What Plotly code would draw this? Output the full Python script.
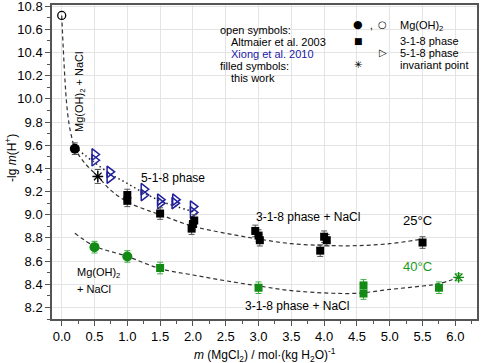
import plotly.graph_objects as go

# ---------------- data ----------------
mgoh2_lit_x = [0.0]
mgoh2_lit_y = [10.72]

mgoh2_25_x = [0.2]
mgoh2_25_y = [9.57]

inv25_x = [0.55]
inv25_y = [9.33]

p318_25_x = [1.0, 1.0, 1.5, 1.98, 2.0, 2.02, 2.95, 3.0, 3.02, 3.94, 4.0, 4.04, 5.5]
p318_25_y = [9.17, 9.12, 9.01, 8.88, 8.92, 8.95, 8.86, 8.82, 8.78, 8.69, 8.81, 8.78, 8.76]

p518_x = [0.5, 0.5, 0.73, 0.73, 1.25, 1.25, 1.5, 1.5, 1.73, 1.72, 2.0, 2.0]
p518_y = [9.52, 9.47, 9.37, 9.32, 9.22, 9.17, 9.13, 9.10, 9.13, 9.10, 9.07, 9.02]

mgoh2_40_x = [0.5, 1.0]
mgoh2_40_y = [8.72, 8.64]

p318_40_x = [1.5, 3.0, 4.6, 4.6, 5.75]
p318_40_y = [8.54, 8.37, 8.39, 8.32, 8.37]

inv40_x = [6.05]
inv40_y = [8.46]

curve25_x = [0.0, 0.025, 0.05, 0.075, 0.11, 0.15, 0.2, 0.33, 0.55, 0.75, 1.0, 1.25,
             1.5, 2.0, 2.5, 3.0, 3.5, 4.0, 4.5, 5.0, 5.5]
curve25_y = [10.72, 10.42, 10.16, 9.96, 9.79, 9.675, 9.575, 9.46, 9.33, 9.21, 9.11, 9.05,
             9.0, 8.9, 8.84, 8.79, 8.75, 8.735, 8.733, 8.75, 8.79]

curve518_x = [0.25, 0.5, 0.75, 1.0, 1.25, 1.5, 1.75, 2.05]
curve518_y = [9.56, 9.45, 9.35, 9.27, 9.19, 9.12, 9.07, 9.02]

curve40_x = [0.2, 0.5, 1.0, 1.5, 2.0, 2.5, 3.0, 3.5, 4.0, 4.5, 5.0, 5.5, 5.75, 6.05]
curve40_y = [8.84, 8.73, 8.64, 8.535, 8.48, 8.43, 8.385, 8.345, 8.325, 8.322, 8.355, 8.385, 8.405, 8.46]

err = 0.05

# ---------------- styles ----------------
BLACK = "#000000"
GREEN = "#138a13"
GREEN_ERR = "#3cb043"
BLUE = "#1f1f9c"
FONT = "Liberation Sans, Arial, sans-serif"

fig = go.Figure()

def errbar(n, color, v=err):
    return dict(type="data", array=[v] * n, visible=True, color=color, thickness=1, width=3)

# curves
fig.add_trace(go.Scatter(x=curve25_x, y=curve25_y, mode="lines",
                         line=dict(color="#333333", width=1.2, dash="4px,3px", shape="spline"),
                         hoverinfo="skip"))
fig.add_trace(go.Scatter(x=curve518_x, y=curve518_y, mode="lines",
                         line=dict(color="#222222", width=1.5, dash="1.5px,3px", shape="spline"),
                         hoverinfo="skip"))
fig.add_trace(go.Scatter(x=curve40_x, y=curve40_y, mode="lines",
                         line=dict(color="#333333", width=1.2, dash="4px,3px", shape="spline"),
                         hoverinfo="skip"))

# 25 C points
fig.add_trace(go.Scatter(x=mgoh2_lit_x, y=mgoh2_lit_y, mode="markers",
                         marker=dict(symbol="circle-open", size=8, color=BLACK, line=dict(width=1.3))))
fig.add_trace(go.Scatter(x=mgoh2_25_x, y=mgoh2_25_y, mode="markers",
                         marker=dict(symbol="circle", size=10, color=BLACK),
                         error_y=errbar(len(mgoh2_25_x), "#555555")))
fig.add_trace(go.Scatter(x=p518_x, y=p518_y, mode="markers",
                         marker=dict(symbol="triangle-right-open", size=10, color=BLUE, line=dict(width=1.5))))
fig.add_trace(go.Scatter(x=p318_25_x, y=p318_25_y, mode="markers",
                         marker=dict(symbol="square", size=8, color=BLACK),
                         error_y=errbar(len(p318_25_x), "#555555")))
fig.add_trace(go.Scatter(x=inv25_x, y=inv25_y, mode="markers",
                         marker=dict(symbol="asterisk-open", size=9, color=BLACK, line=dict(width=1.3, color=BLACK)),
                         error_y=errbar(len(inv25_x), "#555555", 0.06)))

# 40 C points
fig.add_trace(go.Scatter(x=mgoh2_40_x, y=mgoh2_40_y, mode="markers",
                         marker=dict(symbol="circle", size=10, color=GREEN),
                         error_y=errbar(len(mgoh2_40_x), GREEN_ERR)))
fig.add_trace(go.Scatter(x=p318_40_x, y=p318_40_y, mode="markers",
                         marker=dict(symbol="square", size=8, color=GREEN),
                         error_y=errbar(len(p318_40_x), GREEN_ERR)))
fig.add_trace(go.Scatter(x=inv40_x, y=inv40_y, mode="markers",
                         marker=dict(symbol="asterisk-open", size=9, color=GREEN, line=dict(width=1.3, color=GREEN)),
                         error_y=errbar(len(inv40_x), GREEN_ERR, 0.03)))

ann = []
def txt(x, y, s, size=12, color="#000000", xanchor="center", yanchor="middle", angle=0, xref="x", yref="y", font=FONT):
    ann.append(dict(x=x, y=y, text=s, showarrow=False, xref=xref, yref=yref,
                    xanchor=xanchor, yanchor=yanchor, textangle=angle,
                    font=dict(size=size, color=color, family=font)))

# in-plot labels
txt(0.28, 10.06, "Mg(OH)<sub>2</sub> + NaCl", size=11, angle=-90)
txt(1.7, 9.32, "5-1-8 phase", size=12)
txt(3.76, 8.98, "3-1-8 phase + NaCl", size=12)
txt(5.42, 8.95, "25°C", size=13)
txt(5.42, 8.555, "40°C", size=13, color="#1a9a1a")
txt(0.2, 8.5, "Mg(OH)<sub>2</sub>", size=11, xanchor="left")
txt(0.2, 8.355, "+ NaCl", size=11, xanchor="left")
txt(3.58, 8.21, "3-1-8 phase + NaCl", size=12)

# symbol key text block (paper coords)
def px2paper_x(px):
    return (px - 52) / 425.0
def px2paper_y(py):
    return 1 - (py - 5) / 314.0

txt(px2paper_x(218), px2paper_y(30), "open symbols:", size=11, xanchor="left", xref="paper", yref="paper")
txt(px2paper_x(229), px2paper_y(42), "Altmaier et al. 2003", size=11, xanchor="left", xref="paper", yref="paper")
txt(px2paper_x(229), px2paper_y(54), "Xiong et al. 2010", size=11, color="#2020a8", xanchor="left", xref="paper", yref="paper")
txt(px2paper_x(218), px2paper_y(66), "filled symbols:", size=11, xanchor="left", xref="paper", yref="paper")
txt(px2paper_x(229), px2paper_y(78), "this work", size=11, xanchor="left", xref="paper", yref="paper")

SYM = "DejaVu Sans"
txt(px2paper_x(358), px2paper_y(25), "●", size=11, xref="paper", yref="paper", font=SYM)
txt(px2paper_x(371), px2paper_y(26), ",", size=10, xref="paper", yref="paper")
txt(px2paper_x(382), px2paper_y(25), "○", size=10, xref="paper", yref="paper", font=SYM)
txt(px2paper_x(398), px2paper_y(26), "Mg(OH)<sub>2</sub>", size=11, xanchor="left", xref="paper", yref="paper")
txt(px2paper_x(358), px2paper_y(40.5), "■", size=9, xref="paper", yref="paper", font=SYM)
txt(px2paper_x(398), px2paper_y(40.5), "3-1-8 phase", size=11, xanchor="left", xref="paper", yref="paper")
txt(px2paper_x(383), px2paper_y(53), "▷", size=10, xref="paper", yref="paper", font=SYM)
txt(px2paper_x(398), px2paper_y(53), "5-1-8 phase", size=11, xanchor="left", xref="paper", yref="paper")
txt(px2paper_x(358), px2paper_y(65), "✳", size=10, xref="paper", yref="paper", font=SYM)
txt(px2paper_x(398), px2paper_y(65), "invariant point", size=11, xanchor="left", xref="paper", yref="paper")

# axis titles
txt(px2paper_x(11), px2paper_y(158), "-lg <i>m</i>(H<sup>+</sup>)", size=12, angle=-90, xref="paper", yref="paper")
txt(px2paper_x(265), px2paper_y(355), "<i>m</i> (MgCl<sub>2</sub>) / mol·(kg H<sub>2</sub>O)<sup>-1</sup>",
    size=12, xref="paper", yref="paper")

axis_common = dict(showline=True, linecolor="#555555", linewidth=1.5, mirror=True,
                   ticks="outside", ticklen=5, tickwidth=1, tickcolor="#555555",
                   showgrid=True, gridcolor="#e4e4e4", gridwidth=1, zeroline=False,
                   automargin=False, ticklabeloverflow="allow",
                   tickfont=dict(size=13, family=FONT, color="#000000"))

fig.update_layout(
    width=484, height=363,
    margin=dict(l=52, r=7, t=5, b=44),
    paper_bgcolor="white", plot_bgcolor="white",
    showlegend=False,
    font=dict(family=FONT, size=12, color="#000000"),
    annotations=ann,
    xaxis=dict(range=[-0.148, 6.33], dtick=0.5, tick0=0, tickformat=".1f",
               minor=dict(dtick=0.25, ticks="outside", ticklen=3, tickcolor="#555555", showgrid=False),
               **axis_common),
    yaxis=dict(range=[8.1, 10.81], dtick=0.2, tick0=8.2, tickformat=".1f",
               minor=dict(dtick=0.1, ticks="outside", ticklen=3, tickcolor="#555555", showgrid=False),
               **axis_common),
)

fig.write_html("out.html", config={"displayModeBar": False},
               post_script="document.body.style.margin='0';")
